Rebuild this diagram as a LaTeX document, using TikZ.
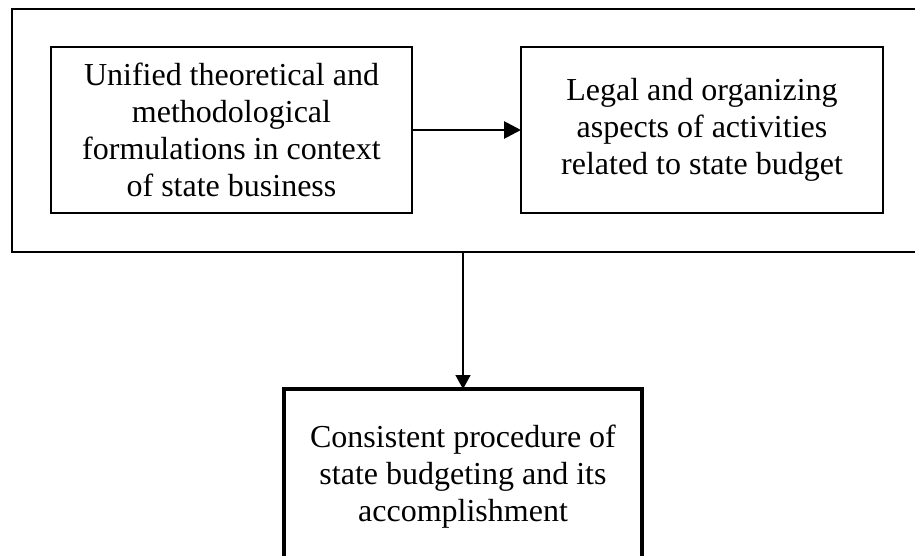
\documentclass[tikz,border=0pt]{standalone}
\usepackage{fontspec}
\setmainfont{Liberation Serif}
\usetikzlibrary{arrows.meta}
\begin{document}
\begin{tikzpicture}[x=1pt,y=-1pt,
  every node/.style={inner sep=0pt, outer sep=0pt},
  txt/.style={font=\fontsize{32}{37}\selectfont, align=center},
  frame/.style={draw, line width=1.8pt},
  innerbox/.style={draw, line width=1.8pt, txt},
  finalbox/.style={draw, line width=3.5pt, txt},
  conn/.style={line width=2.8pt, -{Triangle[length=17pt,width=17pt]}},
  connv/.style={line width=1.6pt, -{Triangle[length=14pt,width=15pt]}}]
\useasboundingbox (0,0) rectangle (915,555);
\node[frame, minimum width=913pt, minimum height=243pt] (outer) at (468.5,130.5) {};
\node[innerbox, minimum width=361pt, minimum height=166pt] (b1) at (231.5,130)
  {Unified theoretical and\\methodological\\formulations in context\\of state business};
\node[innerbox, minimum width=362pt, minimum height=166pt] (b2) at (702,130)
  {Legal and organizing\\aspects of activities\\related to state budget};
\node[finalbox, minimum width=358pt, minimum height=176pt] (b3) at (463,477)
  {Consistent procedure of\\state budgeting and its\\accomplishment};
\draw[conn] (b1.east) -- (b2.west);
\draw[connv] (b3.north |- outer.south) -- (b3.north);
\end{tikzpicture}
\end{document}
